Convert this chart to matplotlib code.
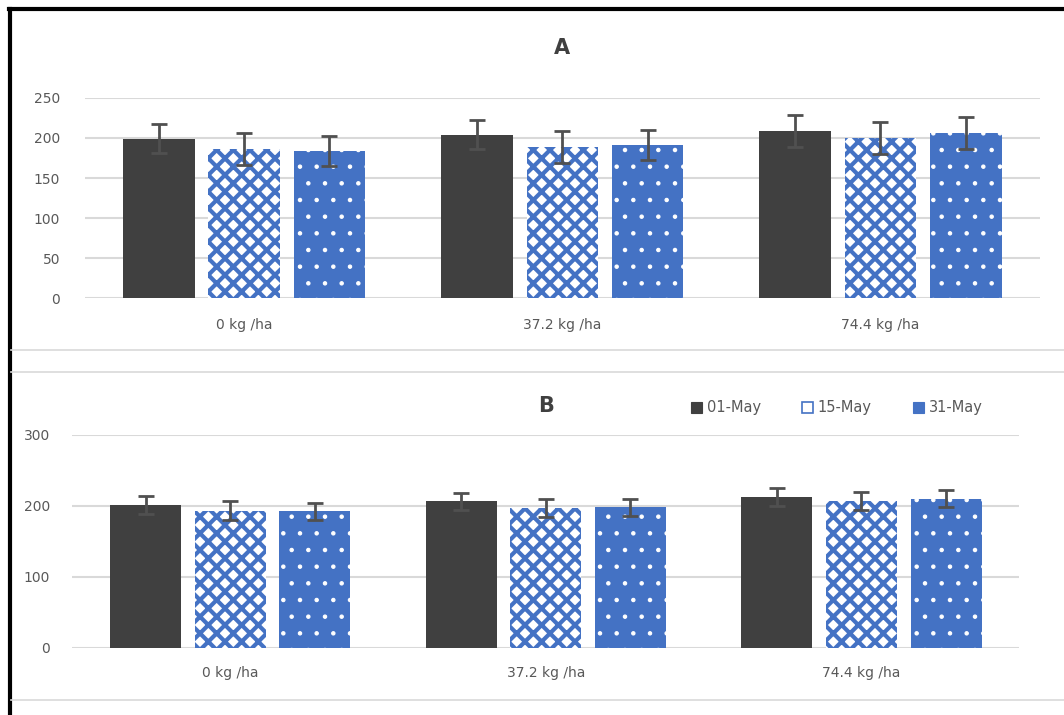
import matplotlib.pyplot as plt
from matplotlib.lines import Line2D
from matplotlib.patches import Patch
import numpy as np

categories = ["0 kg /ha", "37.2 kg /ha", "74.4 kg /ha"]
dates = ["01-May", "15-May", "31-May"]

# panel A (mean, error)
a_may01 = [199, 204, 209]
a_may15 = [186, 189, 200]
a_may31 = [184, 191, 206]
a_err01 = [18, 18, 20]
a_err15 = [20, 20, 20]
a_err31 = [19, 19, 20]

# panel B
b_may01 = [201, 206, 212]
b_may15 = [193, 197, 207]
b_may31 = [192, 198, 210]
b_err01 = [13, 12, 13]
b_err15 = [13, 13, 13]
b_err31 = [12, 12, 12]

dark = "#404040"
blue = "#4472C4"
grid_c = "#d9d9d9"
txt_c = "#595959"

styles = [
    dict(facecolor=dark, edgecolor=dark, hatch=None, hlw=1.0),
    dict(facecolor="white", edgecolor=blue, hatch="xx", hlw=3.0),
    dict(facecolor=blue, edgecolor="white", hatch=".", hlw=0.8),
]

fig = plt.figure(figsize=(10.64, 7.15), dpi=100)


def draw_panel(ax, series, errs, ymax, step, title, tpad, xpad, ypad):
    x = np.arange(len(categories))
    w = 0.225
    gap = 0.268
    for i, (vals, err) in enumerate(zip(series, errs)):
        st = styles[i]
        with plt.rc_context({"hatch.linewidth": st["hlw"]}):
            ax.bar(x + (i - 1) * gap, vals, w, facecolor=st["facecolor"],
                   edgecolor=st["edgecolor"], hatch=st["hatch"], linewidth=0,
                   zorder=2, label=dates[i])
        ax.errorbar(x + (i - 1) * gap, vals, yerr=err, fmt="none",
                    ecolor="#505050", elinewidth=2, capsize=6, capthick=2,
                    zorder=3)
    ax.set_xlim(-0.5, 2.5)
    ax.set_ylim(0, ymax)
    ax.set_yticks(np.arange(0, ymax + 1, step))
    ax.set_xticks(x)
    ax.set_xticklabels(categories)
    ax.yaxis.grid(True, color=grid_c, linewidth=1.5, zorder=0)
    ax.set_axisbelow(True)
    for s in ax.spines.values():
        s.set_visible(False)
    ax.tick_params(length=0, colors=txt_c, labelsize=10)
    ax.tick_params(axis="x", pad=xpad)
    ax.tick_params(axis="y", pad=ypad)
    ax.set_title(title, fontsize=15, fontweight="bold", color=dark, pad=tpad)


axA = fig.add_axes([0.08, 0.583, 0.897, 0.28])
draw_panel(axA, [a_may01, a_may15, a_may31], [a_err01, a_err15, a_err31],
           250, 50, "A", 32, 14, 18)

axB = fig.add_axes([0.068, 0.094, 0.89, 0.298])
draw_panel(axB, [b_may01, b_may15, b_may31], [b_err01, b_err15, b_err31],
           300, 100, "B", 16, 13, 16)

# legend squares, simplified
handles = [
    Patch(facecolor=dark, edgecolor=dark, linewidth=0.8),
    Patch(facecolor="white", edgecolor=blue, linewidth=1.2),
    Patch(facecolor=blue, edgecolor=blue, linewidth=0.8),
]
axB.legend(handles, dates, loc="lower right", bbox_to_anchor=(0.975, 1.03),
           ncol=3, frameon=False, fontsize=10.5, labelcolor=txt_c,
           handlelength=0.8, handleheight=0.8, handletextpad=0.3,
           columnspacing=2.8)

# panel frames
fig.add_artist(Line2D([0.008, 1.0], [0.987, 0.987], color="black", linewidth=3))
fig.add_artist(Line2D([0.009, 0.009], [0.0, 0.988], color="black", linewidth=3))
for yy in [0.51, 0.48, 0.021]:
    fig.add_artist(Line2D([0.01, 1.0], [yy, yy], color=grid_c, linewidth=1.2))

fig.savefig("out.png", dpi=100)
